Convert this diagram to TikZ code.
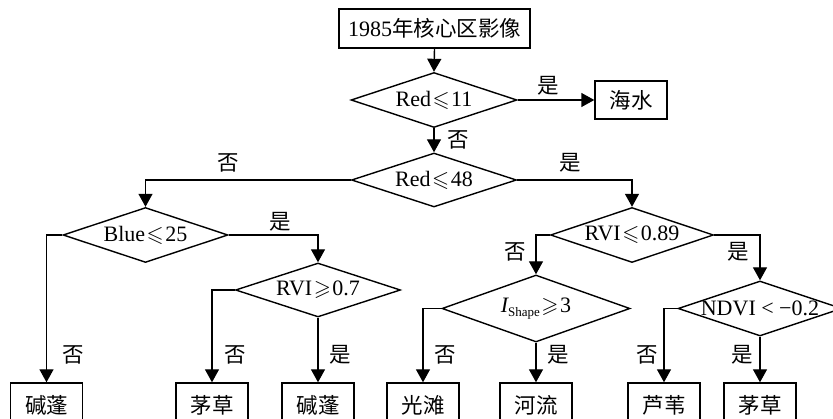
\documentclass[tikz,border=0pt]{standalone}
\usepackage{fontspec}
\usepackage{amssymb}
\setmainfont{Liberation Serif}
\newfontfamily\cjk{Noto Sans CJK SC}
\usetikzlibrary{shapes.geometric,arrows.meta}

\newcommand\relle{\kern1.5pt$\leqslant$\kern1.5pt}
\newcommand\relge{\kern1.5pt$\geqslant$\kern1.5pt}

\begin{document}
\begin{tikzpicture}[x=1pt,y=-1pt,
  font=\fontsize{22}{26}\selectfont,
  line width=1.4pt,
  arr/.style={-{Triangle[length=13pt,width=14pt]}},
  box/.style={draw, rectangle, inner sep=0pt},
  leaf/.style={box, minimum width=72pt, minimum height=44pt, font=\cjk\fontsize{21.5}{26}\selectfont},
  dia/.style={draw, diamond, inner sep=0pt},
  cond/.style={inner sep=0pt},
  yn/.style={inner sep=0pt, font=\cjk\fontsize{21.5}{26}\selectfont}]

\useasboundingbox (0,0) rectangle (833,419);
\clip (0,0) rectangle (833,419);

% root and first test
\node[box, minimum width=191pt, minimum height=39pt] (root) at (434.5,28.5)
  {1985{\cjk\fontsize{21.5}{26}\selectfont 年核心区影像}};
\node[dia, minimum width=166pt, minimum height=55pt] (d1) at (434,100) {};
\node[cond] (t1) at (d1) {Red\relle 11};
\node[box, minimum width=72pt, minimum height=38pt, font=\cjk\fontsize{21.5}{26}\selectfont] (sea) at (631,100) {海水};

% second level
\node[dia, minimum width=165pt, minimum height=54pt] (d2) at (434,180) {};
\node[cond] (t2) at (d2) {Red\relle 48};

% left subtree
\node[dia, minimum width=165pt, minimum height=55pt] (d3) at (145.5,235) {};
\node[cond] (t3) at (d3) {Blue\relle 25};
\node[dia, minimum width=165pt, minimum height=54pt] (d4) at (318,290) {};
\node[cond] (t4) at (d4) {RVI\relge 0.7};

% right subtree
\node[dia, minimum width=163pt, minimum height=55pt] (d5) at (632,235) {};
\node[cond] (t5) at (d5) {RVI\relle 0.89};
\node[dia, minimum width=188pt, minimum height=67pt] (d6) at (536,308.5) {};
\node[cond] (t6) at (d6) {{\itshape I}{\fontsize{13}{13}\selectfont\raisebox{-4pt}{Shape}}\relge 3};
\node[dia, minimum width=164pt, minimum height=55pt] (d7) at (760,308.5) {};
\node[cond] (t7) at (d7) {NDVI < −0.2};

% leaves
\node[leaf] (l1) at (46.5,405) {碱蓬};
\node[leaf] (l2) at (212,405) {茅草};
\node[leaf] (l3) at (318,405) {碱蓬};
\node[leaf] (l4) at (423,405) {光滩};
\node[leaf] (l5) at (536,405) {河流};
\node[leaf] (l6) at (664,405) {芦苇};
\node[leaf] (l7) at (760,405) {茅草};

% connectors
\draw[arr] (root.south) -- (d1.north);
\draw[arr] (d1.east) -- (sea.west);
\draw[arr] (d1.south) -- (d2.north);
\draw[arr] (d2.west) -| (d3.north);
\draw[arr] (d2.east) -| (d5.north);
\draw[arr] (d3.west) -| (l1.north);
\draw[arr] (d3.east) -| (d4.north);
\draw[arr] (d4.west) -| (l2.north);
\draw[arr] (d4.south) -- (l3.north);
\draw[arr] (d5.west) -| (d6.north);
\draw[arr] (d5.east) -| (d7.north);
\draw[arr] (d6.west) -| (l4.north);
\draw[arr] (d6.south) -- (l5.north);
\draw[arr] (d7.west) -| (l6.north);
\draw[arr] (d7.south) -- (l7.north);

% branch labels
\node[yn] (y1) at (548,86) {是};
\node[yn] (n1) at (458,140) {否};
\node[yn] (n2) at (228,163) {否};
\node[yn] (y2) at (570,163) {是};
\node[yn] (y3) at (280,222) {是};
\node[yn] (n3) at (73,355) {否};
\node[yn] (n4) at (235,355) {否};
\node[yn] (y4) at (340,355) {是};
\node[yn] (n5) at (515,252) {否};
\node[yn] (y5) at (738,252) {是};
\node[yn] (n6) at (445,355) {否};
\node[yn] (y6) at (558,355) {是};
\node[yn] (n7) at (647,355) {否};
\node[yn] (y7) at (742,355) {是};
\end{tikzpicture}
\end{document}
